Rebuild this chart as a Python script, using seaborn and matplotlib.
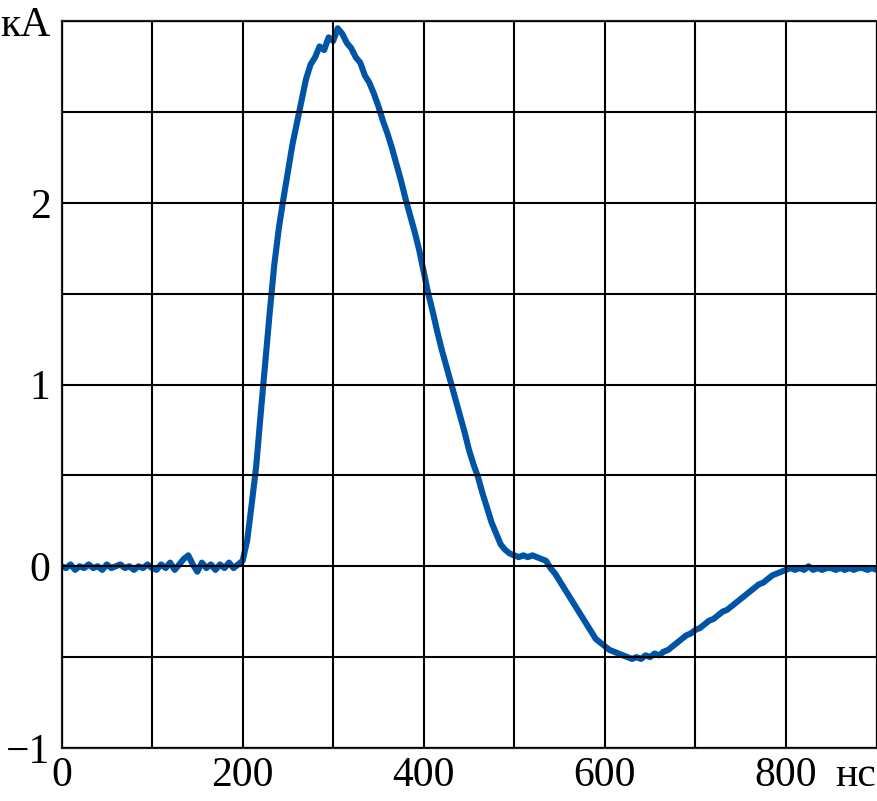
import numpy as np
import pandas as pd
import matplotlib
matplotlib.use('Agg')
import matplotlib.pyplot as plt
import seaborn as sns

# time axis, ns (sampled every 5 ns)
time_ns = np.arange(0, 901, 5)

# current, kA
baseline = [0.00, -0.01, 0.01, -0.02, 0.00, -0.01, 0.01, -0.01, 0.00, -0.02,
            0.01, -0.01, 0.00, 0.01, -0.01, 0.00, -0.02, 0.00, -0.01, 0.01,
            -0.01, -0.02, 0.01, -0.01, 0.02, -0.02, 0.01, 0.04, 0.06, 0.01,
            -0.03, 0.02, -0.01, 0.01, -0.02, 0.01, -0.01, 0.02, -0.01, 0.01]
rise = [0.03, 0.14, 0.34, 0.55, 0.84, 1.12, 1.40, 1.66, 1.86, 2.02,
        2.17, 2.32, 2.44, 2.56, 2.68, 2.76, 2.80, 2.86, 2.84, 2.91,
        2.89, 2.96, 2.93]
fall = [2.88, 2.85, 2.80, 2.77, 2.70, 2.66, 2.60, 2.53, 2.45, 2.38,
        2.30, 2.21, 2.12, 2.02, 1.93, 1.84, 1.74, 1.62, 1.50, 1.40,
        1.29, 1.19, 1.10, 1.01, 0.92, 0.83, 0.74, 0.64, 0.56, 0.49,
        0.40, 0.32, 0.24, 0.18, 0.12, 0.09, 0.07]
shoulder = [0.06, 0.05, 0.06, 0.05, 0.06, 0.05, 0.04, 0.03]
undershoot = [-0.01, -0.04, -0.08, -0.12, -0.16, -0.20, -0.24, -0.28, -0.32, -0.36,
              -0.40, -0.42, -0.44, -0.46, -0.47, -0.48, -0.49, -0.50, -0.51, -0.50,
              -0.51, -0.49, -0.50, -0.48, -0.49, -0.47, -0.46, -0.44, -0.42, -0.40,
              -0.38, -0.37, -0.35, -0.34, -0.32, -0.30, -0.29, -0.27, -0.25, -0.24,
              -0.22, -0.20, -0.18, -0.16, -0.14, -0.12, -0.10, -0.09, -0.07, -0.05,
              -0.04, -0.03, -0.02]
tail = [-0.01, -0.02, -0.01, -0.02, 0.00, -0.02, -0.01, -0.02, -0.01, -0.01,
        -0.02, -0.01, -0.02, -0.01, -0.02, -0.01, -0.01, -0.02, -0.01, -0.02]

current_kA = baseline + rise + fall + shoulder + undershoot + tail

x_ticks = [0, 100, 200, 300, 400, 500, 600, 700, 800, 900]
x_labels = ['0', '', '200', '', '400', '', '600', '', '800', 'нс']
y_ticks = [-1, -0.5, 0, 0.5, 1, 1.5, 2, 2.5, 3]
y_labels = ['\u22121', '', '0', '', '1', '', '2', '', 'кА']

df = pd.DataFrame({'t': time_ns, 'I': current_kA})

sns.set_style('white')
plt.rcParams['font.family'] = ['Liberation Serif', 'DejaVu Serif']

fig = plt.figure(figsize=(8.77, 8.01), dpi=100)
ax = fig.add_axes([61.5 / 877, 1 - 748 / 801, 815 / 877, 727 / 801])

sns.lineplot(data=df, x='t', y='I', color='#0054a6', lw=4.4, ax=ax)

ax.set_xlim(0, 900)
ax.set_ylim(-1, 3)
ax.set_xticks(x_ticks)
ax.set_xticklabels(x_labels, fontsize=30)
ax.set_yticks(y_ticks)
ax.set_yticklabels(y_labels, fontsize=30)
ax.get_xticklabels()[-1].set_horizontalalignment('right')
ax.tick_params(axis='both', length=0, labelcolor='black')
ax.tick_params(axis='x', pad=6)
ax.tick_params(axis='y', pad=8)
ax.set_xlabel('')
ax.set_ylabel('')

# grid drawn over the trace
ax.set_axisbelow(False)
ax.grid(True, color='black', lw=1.5)
for s in ax.spines.values():
    s.set_color('#222222')
    s.set_linewidth(1.6)

plt.savefig('out.png', dpi=100)
plt.close()
